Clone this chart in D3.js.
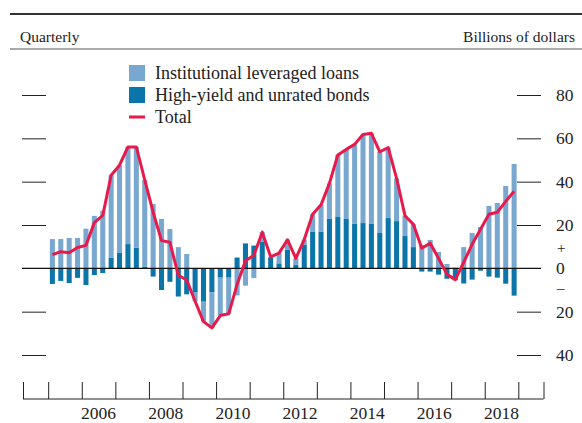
<!DOCTYPE html>
<html>
<head>
<meta charset="utf-8">
<script src="https://cdn.jsdelivr.net/npm/d3@7"></script>
<style>
  html, body { margin: 0; padding: 0; background: #fff; }
  svg { display: block; }
  text { font-family: "Liberation Serif", "Times New Roman", serif; fill: #222; }
</style>
</head>
<body>
<svg id="chart" width="582" height="423"></svg>
<script>
// Quarters 2005Q1 .. 2018Q4
const quarters = [
  "2005Q1","2005Q2","2005Q3","2005Q4","2006Q1","2006Q2","2006Q3","2006Q4",
  "2007Q1","2007Q2","2007Q3","2007Q4","2008Q1","2008Q2","2008Q3","2008Q4",
  "2009Q1","2009Q2","2009Q3","2009Q4","2010Q1","2010Q2","2010Q3","2010Q4",
  "2011Q1","2011Q2","2011Q3","2011Q4","2012Q1","2012Q2","2012Q3","2012Q4",
  "2013Q1","2013Q2","2013Q3","2013Q4","2014Q1","2014Q2","2014Q3","2014Q4",
  "2015Q1","2015Q2","2015Q3","2015Q4","2016Q1","2016Q2","2016Q3","2016Q4",
  "2017Q1","2017Q2","2017Q3","2017Q4","2018Q1","2018Q2","2018Q3","2018Q4"
];
// Institutional leveraged loans (billions of dollars)
const loans = [
  13.5, 13.5, 14.0, 14.0, 18.3, 24.2, 26.6, 38.2,
  40.5, 44.8, 46.5, 40.0, 29.7, 22.8, 18.2, 9.8,
  6.6, -4.0, -9.2, -16.5, -17.5, -16.7, -12.5, -8.0,
  -4.5, 4.4, 0.3, 4.7, 4.7, 3.1, 2.5, 8.0,
  12.3, 16.4, 28.6, 32.1, 36.7, 40.9, 41.8, 37.5,
  32.5, 19.7, 9.4, 10.5, 10.8, 13.1, 7.5, 2.0,
  0.3, 9.8, 16.3, 19.1, 28.8, 30.2, 38.0, 48.2
];
// High-yield and unrated bonds
const bonds = [
  -7.2, -5.8, -6.8, -4.4, -7.7, -3.1, -2.2, 4.8,
  7.1, 11.2, 9.5, 0.8, -3.8, -10.0, -6.2, -13.0,
  -12.0, -11.2, -15.4, -11.0, -4.3, -4.3, 5.0, 11.5,
  10.5, 12.3, 5.0, 2.3, 8.5, 1.5, 10.8, 17.0,
  17.0, 22.8, 23.7, 22.8, 20.5, 20.9, 20.5, 16.3,
  23.2, 21.8, 14.9, 9.8, -1.5, -1.5, -2.9, -4.8,
  -5.5, -7.0, -5.2, -1.1, -3.8, -4.3, -7.1, -12.6
];
// Total
const total = [
  6.3, 7.7, 7.2, 9.6, 10.6, 21.1, 24.4, 43.0,
  47.6, 56.0, 56.0, 40.8, 25.9, 12.8, 12.0, -3.2,
  -5.4, -15.2, -24.6, -27.5, -21.8, -21.0, -7.5, 3.5,
  6.0, 16.7, 5.3, 7.0, 13.2, 4.6, 13.3, 25.0,
  29.3, 39.2, 52.3, 54.9, 57.2, 61.8, 62.3, 53.8,
  55.7, 41.5, 24.3, 20.3, 9.3, 11.6, 4.6, -2.8,
  -5.2, 2.8, 11.1, 18.0, 25.0, 25.9, 30.9, 35.6
];
const yTicks = [80, 60, 40, 20, -20, -40];
const yearTicks = [2005,2006,2007,2008,2009,2010,2011,2012,2013,2014,2015,2016,2017,2018,2019];
const yearLabels = [2006, 2008, 2010, 2012, 2014, 2016, 2018];
const legendItems = ["Institutional leveraged loans", "High-yield and unrated bonds", "Total"];

const COL_LOANS = "#78a8cf";
const COL_BONDS = "#0b74a9";
const COL_TOTAL = "#e8194b";

const svg = d3.select("#chart");

// header
svg.append("line").attr("x1", 10).attr("x2", 582).attr("y1", 14).attr("y2", 14)
  .attr("stroke", "#333").attr("stroke-width", 2);
svg.append("line").attr("x1", 10).attr("x2", 582).attr("y1", 49).attr("y2", 49)
  .attr("stroke", "#555").attr("stroke-width", 1);
svg.append("text").attr("x", 20).attr("y", 42).attr("font-size", 15.5).text("Quarterly");
svg.append("text").attr("x", 575).attr("y", 42).attr("font-size", 15.5)
  .attr("text-anchor", "end").text("Billions of dollars");

const qTime = q => +q.slice(0, 4) + (+q.slice(5) - 1) / 4 + 0.125;
const x = d3.scaleLinear().domain([2004.25, 2019.75]).range([23, 543.5]);
const y = d3.scaleLinear().domain([-40, 80]).range([355, 95]);

const data = quarters.map((q, i) => ({ q, t: qTime(q), loans: loans[i], bonds: bonds[i], total: total[i] }));
const stack = d3.stack().keys(["bonds", "loans"]).offset(d3.stackOffsetDiverging);
const series = stack(data);
const barW = (x(2005.25) - x(2005)) * 0.6;

// left ticks
svg.append("g").attr("transform", "translate(46,0)")
  .call(d3.axisLeft(y).tickValues(yTicks).tickSize(24).tickFormat(""))
  .call(g => g.select(".domain").remove())
  .call(g => g.selectAll("line").attr("stroke", "#222").attr("stroke-width", 1));
// right ticks + labels
svg.append("g").attr("transform", "translate(517,0)")
  .call(d3.axisRight(y).tickValues(yTicks).tickSize(24).tickPadding(15).tickFormat(d => Math.abs(d)))
  .call(g => g.select(".domain").remove())
  .call(g => g.selectAll("line").attr("stroke", "#222").attr("stroke-width", 1))
  .call(g => g.selectAll("text").attr("font-size", 17.5).attr("fill", "#222")
      .attr("font-family", "Liberation Serif, serif"));
// + 0 - labels
svg.append("text").attr("x", 557).attr("y", y(7.2)).attr("font-size", 15).text("+");
svg.append("text").attr("x", 556).attr("y", y(-2.7)).attr("font-size", 17.5).text("0");
svg.append("text").attr("x", 557).attr("y", y(-11.5)).attr("font-size", 15).text("\u2013");

// bars
svg.append("g").selectAll("g").data(series).join("g")
  .attr("fill", d => d.key === "loans" ? COL_LOANS : COL_BONDS)
  .selectAll("rect").data(d => d).join("rect")
  .attr("x", d => x(d.data.t) - barW / 2)
  .attr("width", barW)
  .attr("y", d => y(Math.max(d[0], d[1])))
  .attr("height", d => Math.abs(y(d[0]) - y(d[1])));

// zero line
svg.append("line").attr("x1", 22).attr("x2", 541).attr("y1", y(0)).attr("y2", y(0))
  .attr("stroke", "#111").attr("stroke-width", 1.3);

// total line
svg.append("path").datum(data)
  .attr("fill", "none").attr("stroke", COL_TOTAL).attr("stroke-width", 3)
  .attr("stroke-linejoin", "round")
  .attr("d", d3.line().x(d => x(d.t)).y(d => y(d.total)));

// bottom axis
const xb = 399;
svg.append("g").attr("transform", `translate(0,${xb})`)
  .call(d3.axisBottom(x).tickValues([2004.25, ...yearTicks, 2019.75]).tickSize(-17).tickFormat(""))
  .call(g => g.select(".domain").attr("d", `M${x(2004.25)},0H${x(2019.75)}`).attr("stroke", "#222"))
  .call(g => g.selectAll("line").attr("stroke", "#222"));
svg.append("g").selectAll("text").data(yearLabels).join("text")
  .attr("x", d => x(d + 0.5)).attr("y", 419).attr("text-anchor", "middle")
  .attr("font-size", 17.5).text(d => d);

// legend
const lg = svg.append("g");
legendItems.forEach((name, i) => {
  const cy = 73 + i * 22;
  if (i < 2) {
    lg.append("rect").attr("x", 129).attr("y", cy - 8).attr("width", 16).attr("height", 16)
      .attr("fill", i === 0 ? COL_LOANS : COL_BONDS);
  } else {
    lg.append("line").attr("x1", 129).attr("x2", 145).attr("y1", cy).attr("y2", cy)
      .attr("stroke", COL_TOTAL).attr("stroke-width", 3);
  }
  lg.append("text").attr("x", 155).attr("y", cy + 6).attr("font-size", 18).text(name);
});
</script>
</body>
</html>
